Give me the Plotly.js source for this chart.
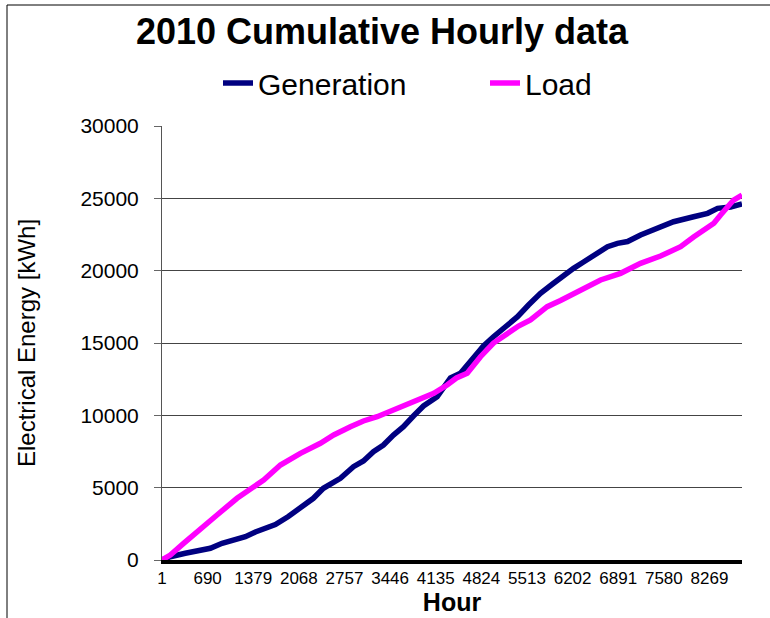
<!DOCTYPE html>
<html>
<head>
<meta charset="utf-8">
<script src="https://cdn.plot.ly/plotly-3.0.1.min.js"></script>
<style>
  html, body { margin: 0; padding: 0; background: #fff; }
  #chart { width: 770px; height: 618px; }
</style>
</head>
<body>
<div id="chart"></div>
<script>
// Hour of year (x) and cumulative energy in kWh (y)
const genHours = [1, 126, 353, 580, 731, 908, 1109, 1260, 1411, 1562, 1713, 1909, 2091, 2287, 2438, 2695, 2892, 3043, 3194, 3345, 3496, 3647, 3798, 3950, 4156, 4357, 4508, 4705, 4856, 5007, 5188, 5370, 5536, 5717, 5899, 6065, 6216, 6367, 6548, 6729, 6880, 7032, 7228, 7485, 7727, 8029, 8241, 8392, 8589, 8760];
const genValues = [0, 228, 463, 726, 809, 1154, 1417, 1610, 1935, 2246, 2454, 3007, 3574, 4265, 4956, 5647, 6449, 6843, 7486, 7949, 8640, 9214, 9953, 10645, 11288, 12580, 12905, 14052, 14792, 15434, 16174, 16817, 17626, 18434, 19077, 19699, 20162, 20598, 21151, 21656, 21890, 22015, 22464, 22927, 23383, 23729, 23964, 24310, 24400, 24607];

const loadHours = [1, 126, 327, 580, 832, 1134, 1335, 1536, 1789, 2091, 2393, 2594, 2846, 3043, 3250, 3552, 3803, 4105, 4307, 4448, 4610, 4811, 5007, 5214, 5385, 5566, 5818, 6019, 6321, 6624, 6926, 7228, 7530, 7833, 8029, 8184, 8335, 8436, 8537, 8633, 8760];
const loadValues = [0, 346, 1154, 2191, 3110, 4265, 4956, 5530, 6566, 7375, 8066, 8640, 9214, 9608, 9905, 10486, 10942, 11522, 12096, 12580, 12905, 14052, 14999, 15670, 16174, 16589, 17508, 17937, 18662, 19354, 19816, 20508, 21012, 21656, 22326, 22810, 23273, 23846, 24421, 24883, 25229];

const xTickVals = [1, 690, 1379, 2068, 2757, 3446, 4135, 4824, 5513, 6202, 6891, 7580, 8269];
const xTickText = ["1", "690", "1379", "2068", "2757", "3446", "4135", "4824", "5513", "6202", "6891", "7580", "8269"];
const yTickVals = [0, 5000, 10000, 15000, 20000, 25000, 30000];
const yTickText = ["0", "5000", "10000", "15000", "20000", "25000", "30000"];

const FONT = '"Liberation Sans", Arial, sans-serif';

const traces = [
  {
    type: 'scatter', mode: 'lines', name: 'Generation',
    x: genHours, y: genValues,
    line: { color: '#000080', width: 5.5 },
    hoverinfo: 'skip'
  },
  {
    type: 'scatter', mode: 'lines', name: 'Load',
    x: loadHours, y: loadValues,
    line: { color: '#FF00FF', width: 5.5 },
    hoverinfo: 'skip'
  }
];

// page frame (left and top edges)
const PW = 580, PH = 434, L = 162, B = 560;
const px = v => (v - L) / PW;
const py = v => (B - v) / PH;

const layout = {
  width: 770, height: 618,
  margin: { l: 162, r: 28, t: 126, b: 58 },
  paper_bgcolor: '#ffffff', plot_bgcolor: '#ffffff',
  font: { family: FONT, color: '#000000' },
  showlegend: true,
  title: {
    text: '<b>2010 Cumulative Hourly data</b>',
    font: { family: FONT, size: 36, color: '#000000' },
    xref: 'container', x: 382 / 770, xanchor: 'center',
    yref: 'container', y: 1 - 31 / 618, yanchor: 'middle'
  },
  legend: {
    orientation: 'h',
    xref: 'container', yref: 'container',
    x: 218 / 770, xanchor: 'left',
    y: 1 - 83 / 618, yanchor: 'middle',
    font: { family: FONT, size: 30, color: '#000000' },
    bgcolor: 'rgba(0,0,0,0)',
    entrywidth: 222, entrywidthmode: 'pixels',
    itemwidth: 30
  },
  xaxis: {
    type: 'linear',
    range: [1, 8760],
    tickmode: 'array', tickvals: xTickVals, ticktext: xTickText,
    tickangle: 0,
    tickfont: { family: FONT, size: 17, color: '#000000' },
    ticks: '', showgrid: false, zeroline: false,
    showline: true, linecolor: '#000000', linewidth: 4,
    ticklabelstandoff: 0,
    title: { text: '<b>Hour</b>', font: { family: FONT, size: 25, color: '#000000' }, standoff: 0 },
    automargin: false, fixedrange: true
  },
  yaxis: {
    range: [0, 30000],
    tickmode: 'array', tickvals: yTickVals, ticktext: yTickText,
    tickfont: { family: FONT, size: 21, color: '#000000' },
    ticks: 'outside', ticklen: 7, tickcolor: '#666666', tickwidth: 1,
    ticklabelstandoff: 11,
    showgrid: true, gridcolor: '#444444', gridwidth: 1,
    zeroline: false,
    showline: true, linecolor: '#555555', linewidth: 1,
    title: { text: 'Electrical Energy [kWh]', font: { family: FONT, size: 24, color: '#000000' }, standoff: 37 },
    automargin: false, fixedrange: true
  },
  shapes: [
    { type: 'line', xref: 'paper', yref: 'paper', x0: px(7), x1: px(7), y0: py(5), y1: py(640), line: { color: '#000000', width: 1 } },
    { type: 'line', xref: 'paper', yref: 'paper', x0: px(7), x1: px(790), y0: py(5), y1: py(5), line: { color: '#000000', width: 1 } }
  ]
};

Plotly.newPlot('chart', traces, layout, { displayModeBar: false, staticPlot: true });
</script>
</body>
</html>
